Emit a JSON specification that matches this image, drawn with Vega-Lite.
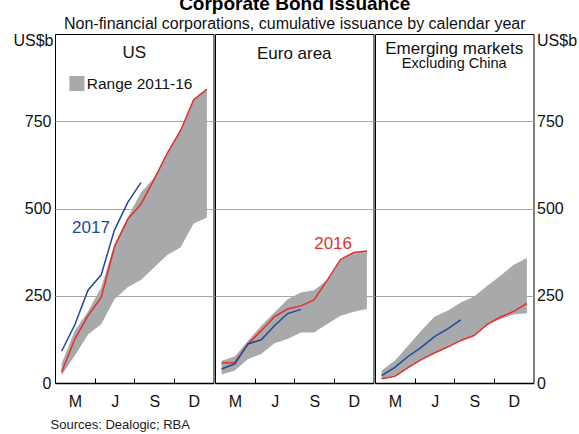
{
  "$schema": "https://vega.github.io/schema/vega-lite/v6.json",
  "background": "white",
  "padding": {"left": 12, "top": -6, "right": 0, "bottom": 0},
  "title": {
    "text": "Corporate Bond Issuance",
    "subtitle": "Non-financial corporations, cumulative issuance by calendar year",
    "anchor": "middle",
    "font": "Liberation Sans",
    "fontSize": 19,
    "fontWeight": "bold",
    "color": "#000000",
    "subtitleFont": "Liberation Sans",
    "subtitleFontSize": 16,
    "subtitleColor": "#111111",
    "subtitlePadding": 2,
    "offset": 0
  },
  "config": {
    "font": "Liberation Sans",
    "view": {"stroke": "#000000", "strokeWidth": 1},
    "text": {"font": "Liberation Sans"}
  },
  "spacing": 0,
  "data": {
    "values": [
      {"panel": "US", "month": 1, "lo": 22, "hi": 55, "y2016": 31, "y2017": 91},
      {"panel": "US", "month": 2, "lo": 79, "hi": 150, "y2016": 126, "y2017": 167},
      {"panel": "US", "month": 3, "lo": 139, "hi": 205, "y2016": 193, "y2017": 266},
      {"panel": "US", "month": 4, "lo": 168, "hi": 274, "y2016": 245, "y2017": 310},
      {"panel": "US", "month": 5, "lo": 240, "hi": 398, "y2016": 390, "y2017": 438},
      {"panel": "US", "month": 6, "lo": 274, "hi": 474, "y2016": 469, "y2017": 517},
      {"panel": "US", "month": 7, "lo": 295, "hi": 545, "y2016": 512, "y2017": 574},
      {"panel": "US", "month": 8, "lo": 331, "hi": 588, "y2016": 583, "y2017": null},
      {"panel": "US", "month": 9, "lo": 367, "hi": 659, "y2016": 659, "y2017": null},
      {"panel": "US", "month": 10, "lo": 388, "hi": 723, "y2016": 723, "y2017": null},
      {"panel": "US", "month": 11, "lo": 457, "hi": 812, "y2016": 812, "y2017": null},
      {"panel": "US", "month": 12, "lo": 474, "hi": 842, "y2016": 842, "y2017": null},
      {"panel": "EA", "month": 1, "lo": 24, "hi": 64, "y2016": 57, "y2017": 40},
      {"panel": "EA", "month": 2, "lo": 36, "hi": 76, "y2016": 59, "y2017": 55},
      {"panel": "EA", "month": 3, "lo": 69, "hi": 121, "y2016": 112, "y2017": 112},
      {"panel": "EA", "month": 4, "lo": 83, "hi": 164, "y2016": 150, "y2017": 124},
      {"panel": "EA", "month": 5, "lo": 114, "hi": 202, "y2016": 190, "y2017": 164},
      {"panel": "EA", "month": 6, "lo": 126, "hi": 240, "y2016": 212, "y2017": 199},
      {"panel": "EA", "month": 7, "lo": 145, "hi": 259, "y2016": 221, "y2017": 211},
      {"panel": "EA", "month": 8, "lo": 145, "hi": 266, "y2016": 238, "y2017": null},
      {"panel": "EA", "month": 9, "lo": 169, "hi": 295, "y2016": 295, "y2017": null},
      {"panel": "EA", "month": 10, "lo": 193, "hi": 354, "y2016": 354, "y2017": null},
      {"panel": "EA", "month": 11, "lo": 204, "hi": 374, "y2016": 374, "y2017": null},
      {"panel": "EA", "month": 12, "lo": 212, "hi": 378, "y2016": 378, "y2017": null},
      {"panel": "EM", "month": 1, "lo": 12, "hi": 36, "y2016": 12, "y2017": 21},
      {"panel": "EM", "month": 2, "lo": 19, "hi": 64, "y2016": 19, "y2017": 45},
      {"panel": "EM", "month": 3, "lo": 44, "hi": 107, "y2016": 44, "y2017": 76},
      {"panel": "EM", "month": 4, "lo": 67, "hi": 150, "y2016": 67, "y2017": 102},
      {"panel": "EM", "month": 5, "lo": 86, "hi": 190, "y2016": 86, "y2017": 133},
      {"panel": "EM", "month": 6, "lo": 103, "hi": 207, "y2016": 103, "y2017": 155},
      {"panel": "EM", "month": 7, "lo": 122, "hi": 231, "y2016": 122, "y2017": 181},
      {"panel": "EM", "month": 8, "lo": 136, "hi": 248, "y2016": 136, "y2017": null},
      {"panel": "EM", "month": 9, "lo": 168, "hi": 279, "y2016": 168, "y2017": null},
      {"panel": "EM", "month": 10, "lo": 183, "hi": 307, "y2016": 189, "y2017": null},
      {"panel": "EM", "month": 11, "lo": 196, "hi": 339, "y2016": 205, "y2017": null},
      {"panel": "EM", "month": 12, "lo": 200, "hi": 358, "y2016": 228, "y2017": null}
    ]
  },
  "hconcat": [
    {
      "width": 158.5,
      "height": 349,
      "layer": [
        {
          "transform": [{"filter": "datum.panel == 'US'"}],
          "encoding": {
            "x": {
              "field": "month", "type": "quantitative",
              "scale": {"domain": [0.5, 12.5], "nice": false, "zero": false},
              "axis": {
                "values": [0.5, 3.5, 6.5, 9.5],
                "labelExpr": "datum.value < 1 ? 'M' : datum.value < 4 ? 'J' : datum.value < 7 ? 'S' : 'D'",
                "labelOffset": 20, "labelOverlap": false, "labelFlush": false, "labelBound": false,
                "tickSize": -5, "tickColor": "#000000", "tickWidth": 1,
                "labelPadding": 15, "labelFontSize": 16, "labelColor": "#111111",
                "domainColor": "#000000", "domainWidth": 1.5, "grid": false,
                "title": "Sources: Dealogic; RBA", "titleX": -5, "titleY": 45,
                "titleAlign": "left", "titleBaseline": "alphabetic", "titleFontSize": 13,
                "titleFontWeight": "normal", "titleColor": "#222222"
              }
            }
          },
          "layer": [
            {
              "mark": {"type": "area", "color": "#a7a9ab", "opacity": 1},
              "encoding": {
                "y": {
                  "field": "lo", "type": "quantitative",
                  "scale": {"domain": [0, 1000], "nice": false},
                  "axis": {
                    "values": [0, 250, 500, 750], "grid": true, "gridColor": "#a6a6a6", "gridWidth": 1,
                    "ticks": false, "domain": false, "labelFontSize": 16, "labelPadding": 4, "labelColor": "#111111",
                    "title": "US$b", "titleAngle": 0, "titleAlign": "right", "titleBaseline": "alphabetic",
                    "titleX": -2, "titleY": 11, "titleFontSize": 16, "titleFontWeight": "normal", "titleColor": "#111111"
                  }
                },
                "y2": {"field": "hi"}
              }
            },
            {
              "mark": {"type": "line", "color": "#e42f2b", "strokeWidth": 1.5},
              "encoding": {"y": {"field": "y2016", "type": "quantitative"}}
            },
            {
              "transform": [{"filter": "datum.y2017 != null"}],
              "mark": {"type": "line", "color": "#23479b", "strokeWidth": 1.5},
              "encoding": {"y": {"field": "y2017", "type": "quantitative"}}
            }
          ]
        },
        {
          "data": {"values": [{"label": "US"}]},
          "mark": {"type": "text", "fontSize": 17, "color": "#111111", "baseline": "alphabetic", "align": "center"},
          "encoding": {"x": {"datum": 6.5}, "y": {"datum": 930}, "text": {"field": "label"}}
        },
        {
          "data": {"values": [{"label": "Range 2011-16"}]},
          "mark": {"type": "point", "shape": "square", "filled": true, "size": 225, "color": "#a7a9ab", "opacity": 1},
          "encoding": {"x": {"datum": 2.16}, "y": {"datum": 858}}
        },
        {
          "data": {"values": [{"label": "Range 2011-16"}]},
          "mark": {"type": "text", "fontSize": 15.5, "color": "#111111", "baseline": "middle", "align": "left"},
          "encoding": {"x": {"datum": 2.9}, "y": {"datum": 856}, "text": {"field": "label"}}
        },
        {
          "data": {"values": [{"label": "2017"}]},
          "mark": {"type": "text", "fontSize": 17, "color": "#23479b", "baseline": "alphabetic", "align": "center"},
          "encoding": {"x": {"datum": 3.22}, "y": {"datum": 430}, "text": {"field": "label"}}
        }
      ]
    },
    {
      "width": 158.5,
      "height": 349,
      "layer": [
        {
          "transform": [{"filter": "datum.panel == 'EA'"}],
          "encoding": {
            "x": {
              "field": "month", "type": "quantitative",
              "scale": {"domain": [0.5, 12.5], "nice": false, "zero": false},
              "axis": {
                "values": [0.5, 3.5, 6.5, 9.5],
                "labelExpr": "datum.value < 1 ? 'M' : datum.value < 4 ? 'J' : datum.value < 7 ? 'S' : 'D'",
                "labelOffset": 20, "labelOverlap": false, "labelFlush": false, "labelBound": false,
                "tickSize": -5, "tickColor": "#000000", "tickWidth": 1,
                "labelPadding": 15, "labelFontSize": 16, "labelColor": "#111111",
                "domainColor": "#000000", "domainWidth": 1.5, "grid": false, "title": null
              }
            }
          },
          "layer": [
            {
              "mark": {"type": "area", "color": "#a7a9ab", "opacity": 1},
              "encoding": {
                "y": {
                  "field": "lo", "type": "quantitative",
                  "scale": {"domain": [0, 1000], "nice": false},
                  "axis": {
                    "values": [0, 250, 500, 750], "grid": true, "gridColor": "#a6a6a6", "gridWidth": 1,
                    "ticks": false, "domain": false, "labels": false, "title": null
                  }
                },
                "y2": {"field": "hi"}
              }
            },
            {
              "mark": {"type": "line", "color": "#e42f2b", "strokeWidth": 1.5},
              "encoding": {"y": {"field": "y2016", "type": "quantitative"}}
            },
            {
              "transform": [{"filter": "datum.y2017 != null"}],
              "mark": {"type": "line", "color": "#23479b", "strokeWidth": 1.5},
              "encoding": {"y": {"field": "y2017", "type": "quantitative"}}
            }
          ]
        },
        {
          "data": {"values": [{"label": "Euro area"}]},
          "mark": {"type": "text", "fontSize": 17, "color": "#111111", "baseline": "alphabetic", "align": "center"},
          "encoding": {"x": {"datum": 6.5}, "y": {"datum": 928}, "text": {"field": "label"}}
        },
        {
          "data": {"values": [{"label": "2016"}]},
          "mark": {"type": "text", "fontSize": 17, "color": "#e42f2b", "baseline": "alphabetic", "align": "center"},
          "encoding": {"x": {"datum": 9.44}, "y": {"datum": 384}, "text": {"field": "label"}}
        }
      ]
    },
    {
      "width": 158.5,
      "height": 349,
      "layer": [
        {
          "transform": [{"filter": "datum.panel == 'EM'"}],
          "encoding": {
            "x": {
              "field": "month", "type": "quantitative",
              "scale": {"domain": [0.5, 12.5], "nice": false, "zero": false},
              "axis": {
                "values": [0.5, 3.5, 6.5, 9.5],
                "labelExpr": "datum.value < 1 ? 'M' : datum.value < 4 ? 'J' : datum.value < 7 ? 'S' : 'D'",
                "labelOffset": 20, "labelOverlap": false, "labelFlush": false, "labelBound": false,
                "tickSize": -5, "tickColor": "#000000", "tickWidth": 1,
                "labelPadding": 15, "labelFontSize": 16, "labelColor": "#111111",
                "domainColor": "#000000", "domainWidth": 1.5, "grid": false, "title": null
              }
            }
          },
          "layer": [
            {
              "mark": {"type": "area", "color": "#a7a9ab", "opacity": 1},
              "encoding": {
                "y": {
                  "field": "lo", "type": "quantitative",
                  "scale": {"domain": [0, 1000], "nice": false},
                  "axis": {
                    "orient": "right",
                    "values": [0, 250, 500, 750], "grid": true, "gridColor": "#a6a6a6", "gridWidth": 1,
                    "ticks": false, "domain": false, "labelFontSize": 16, "labelPadding": 3, "labelColor": "#111111",
                    "title": "US$b", "titleAngle": 0, "titleAlign": "left", "titleBaseline": "alphabetic",
                    "titleX": 3, "titleY": 11, "titleFontSize": 16, "titleFontWeight": "normal", "titleColor": "#111111"
                  }
                },
                "y2": {"field": "hi"}
              }
            },
            {
              "mark": {"type": "line", "color": "#e42f2b", "strokeWidth": 1.5},
              "encoding": {"y": {"field": "y2016", "type": "quantitative"}}
            },
            {
              "transform": [{"filter": "datum.y2017 != null"}],
              "mark": {"type": "line", "color": "#23479b", "strokeWidth": 1.5},
              "encoding": {"y": {"field": "y2017", "type": "quantitative"}}
            }
          ]
        },
        {
          "data": {"values": [{"label": "Emerging markets"}]},
          "mark": {"type": "text", "fontSize": 17, "color": "#111111", "baseline": "alphabetic", "align": "center"},
          "encoding": {"x": {"datum": 6.5}, "y": {"datum": 944}, "text": {"field": "label"}}
        },
        {
          "data": {"values": [{"label": "Excluding China"}]},
          "mark": {"type": "text", "fontSize": 14.5, "color": "#111111", "baseline": "alphabetic", "align": "center"},
          "encoding": {"x": {"datum": 6.5}, "y": {"datum": 903}, "text": {"field": "label"}}
        }
      ]
    }
  ]
}
